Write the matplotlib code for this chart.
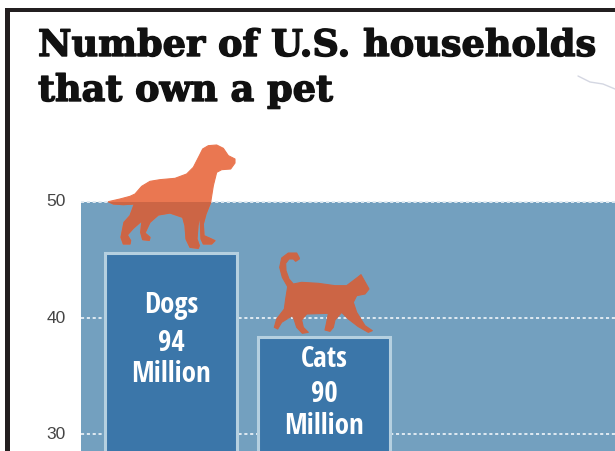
import matplotlib
matplotlib.use("Agg")
import matplotlib.pyplot as plt
from matplotlib.patches import Polygon, Rectangle
from matplotlib.transforms import ScaledTranslation
import matplotlib.patheffects as pe

W, H = 615, 452
categories = ["Dogs", "Cats"]
values = [45.55, 38.35]
amounts = ["94", "90"]
unit = "Million"
ticks = [50, 40, 30]
title_lines = ["Number of U.S. households", "that own a pet"]

# label heights, in axis units
label_y = {"Dogs": [41.12, 37.86, 35.20], "Cats": [36.49, 33.48, 30.74]}

BG = "#73a0bf"
BAR = "#3b76a9"
EDGE = "#b5d0e0"
FRAME = "#231f20"
DOG_LIGHT = "#ea7751"
DOG_DARK = "#cc6545"

# Silhouette outlines, decoration traced in zoom space (3x)
dog = [(25,188),(60,180),(90,172),(105,165),(125,142),(150,127),(180,122),(225,118),(260,105),(280,85),
       (298,50),(308,30),(325,20),(350,18),(370,28),(385,50),(405,60),(405,72),(392,90),(365,92),(350,100),
       (340,140),(332,190),(318,225),(310,255),(312,290),(330,298),(345,305),(335,315),(310,315),(303,300),
       (300,228),(294,260),(291,300),(298,320),(295,328),(270,325),(258,300),(255,260),
       (248,235),(210,222),(175,228),(150,250),(135,282),(150,295),(148,304),(128,302),(122,280),(126,245),
       (100,268),(82,288),(92,305),(90,315),(70,315),(63,295),(72,250),(90,230),(103,195),(70,197),(40,195)]
cat = [(103,42),(95,27),(70,27),(50,42),(44,70),(52,100),(68,128),(62,165),(58,195),(35,225),(28,250),
       (38,255),(50,235),(82,215),(88,228),(95,250),(112,268),(130,265),(115,250),(110,228),(125,210),
       (190,208),(185,235),(180,258),(195,262),(205,250),(210,228),(230,205),(250,225),(280,248),(310,265),
       (322,260),(300,245),(275,205),(265,175),(275,155),(300,150),(312,135),(298,110),(288,92),(278,100),
       (245,125),(210,125),(160,118),(110,115),(85,120),(72,105),(63,80),(62,58),(72,45),(85,45),(92,52),(103,45)]

def place(pts, ox, oy):
    return [(x / 3 + ox, y / 3 + oy) for x, y in pts]

fig = plt.figure(figsize=(W / 100, H / 100), dpi=100, facecolor="white")

# Plot area
top_px, bottom_px = 202.5, H
ax = fig.add_axes([81 / W, 0, 1 - 81 / W, (H - top_px) / H])
ax.set_facecolor(BG)
ax.set_xlim(-0.593, 2.908)
ax.set_ylim(28.58, 50)
for s in ax.spines.values():
    s.set_visible(False)
ax.set_xticks([])
ax.set_yticks(ticks)
ax.tick_params(axis="y", length=0, pad=11)
lift = ScaledTranslation(0, 2 / 72 * 0.72 * 100 / 100 * 1.0, fig.dpi_scale_trans)
for lab in ax.get_yticklabels():
    lab.set_family("Liberation Sans")
    lab.set_fontsize(12.5)
    lab.set_color("#444444")
    lab.set_transform(lab.get_transform() + lift)
ax.grid(axis="y", color="#dfeaf2", linestyle=(0, (1.6, 1.4)), linewidth=1.4, zorder=1)
ax.set_axisbelow(True)
for g in ax.get_ygridlines():
    g.set_clip_on(False)

x = list(range(len(categories)))
ax.bar(x, values, width=0.866, color=BAR, edgecolor=EDGE, linewidth=2.2, zorder=3)

for i, c in enumerate(categories):
    for s, y in zip([c, amounts[i], unit], label_y[c]):
        ax.text(i, y, s, color="white", ha="center", va="center", fontsize=20.8, fontweight="bold",
                family=["Open Sans Condensed", "DejaVu Sans"], zorder=5)

# Overlay in pixel space for frame, title and silhouettes
ov = fig.add_axes([0, 0, 1, 1], zorder=10)
ov.set_xlim(0, W)
ov.set_ylim(H, 0)
ov.axis("off")
ov.patch.set_alpha(0)

ov.add_patch(Rectangle((5, 9), W - 5, 4, fc=FRAME, ec="none"))
ov.add_patch(Rectangle((5, 9), 5, H - 9, fc=FRAME, ec="none"))

dog_xy = place(dog, 100, 140)
ov.add_patch(Polygon(dog_xy, closed=True, fc=DOG_LIGHT, ec=DOG_LIGHT, lw=0.8, joinstyle="round"))
dark = Polygon(dog_xy, closed=True, fc=DOG_DARK, ec=DOG_DARK, lw=0.8, joinstyle="round")
ov.add_patch(dark)
dark.set_clip_path(Rectangle((81, top_px), W - 81, H - top_px, transform=ov.transData))
ov.add_patch(Polygon(place(cat, 265, 245), closed=True, fc=DOG_DARK, ec=DOG_DARK, lw=0.8, joinstyle="round"))

ov.plot([578, 590, 603, 615], [77, 83, 85, 90], color="#d4d7e2", lw=1.0, solid_capstyle="round")

for s, yb in zip(title_lines, [57, 102]):
    ov.text(38, yb, s, ha="left", va="baseline", color="#111111", fontsize=26.4, fontweight="bold",
            family="DejaVu Serif", path_effects=[pe.withStroke(linewidth=1.0, foreground="#111111")])

fig.savefig("out.png", dpi=100, facecolor="white")
